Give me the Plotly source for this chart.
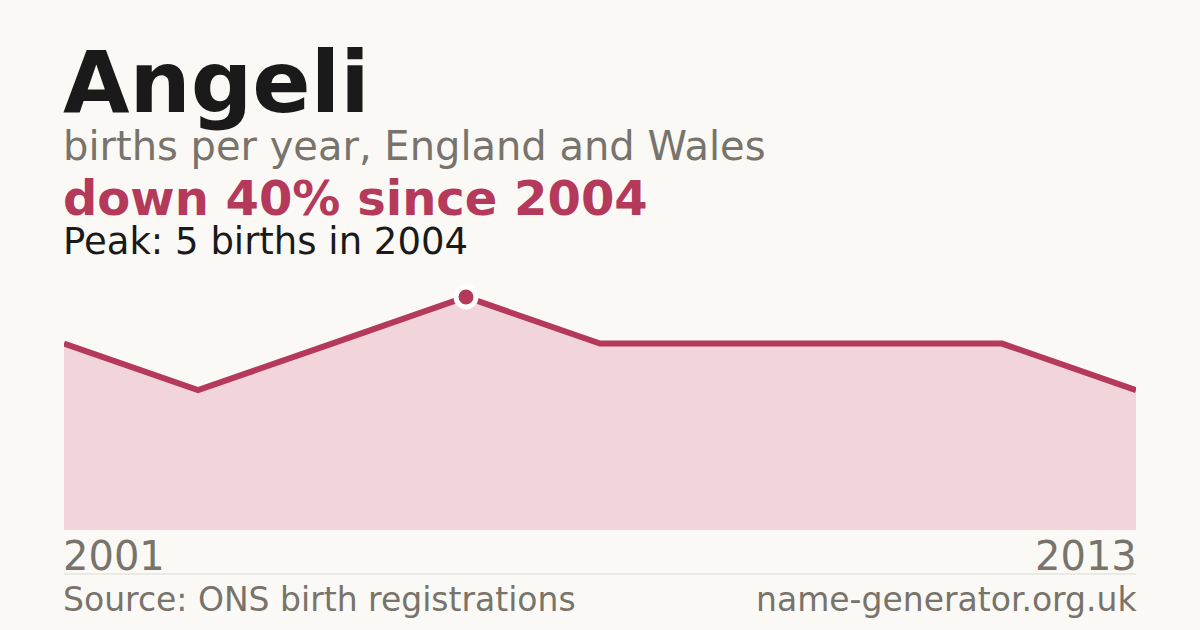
import plotly.graph_objects as go

# data (years with registered births; gaps are suppressed years)
years = ["2001", "2002", "2003", "2004", "2006", "2007", "2009", "2012", "2013"]
births = [4, 3, 4, 5, 4, 4, 4, 4, 3]

name = "Angeli"
subtitle = "births per year, England and Wales"
source = "Source: ONS birth registrations"
site = "name-generator.org.uk"

peak_i = births.index(max(births))
change = round((births[-1] - births[peak_i]) / births[peak_i] * 100)
headline = f"down {abs(change)}% since {years[peak_i]}"
peak_txt = f"Peak: {births[peak_i]} births in {years[peak_i]}"

BG = "#faf9f5"
RED = "#b5395a"
FILL = "#f2d5da"
GREY = "#78736b"
DARK = "#1a1a1a"
FONT = "DejaVu Sans"

W, H = 1200, 630
PAD = 3 / (W - 128)  # annotation inner padding, in paper units


def py(pix):
    # pixel row -> paper y (margins are zero top/bottom)
    return 1 - pix / H


fig = go.Figure()

fig.add_trace(go.Scatter(
    x=years, y=births,
    mode="lines",
    line=dict(color=RED, width=6),
    fill="tozeroy",
    fillcolor=FILL,
    hoverinfo="skip",
))

fig.add_trace(go.Scatter(
    x=[years[peak_i]], y=[births[peak_i]],
    mode="markers",
    marker=dict(color=RED, size=20, line=dict(color="white", width=5)),
    hoverinfo="skip",
))

ann = [
    dict(text=f"<b>{name}</b>", y=py(82), size=86, color=DARK, x=-PAD, xa="left"),
    dict(text=subtitle, y=py(146), size=40, color=GREY, x=-PAD, xa="left"),
    dict(text=f"<b>{headline}</b>", y=py(198), size=48, color=RED, x=-PAD, xa="left"),
    dict(text=peak_txt, y=py(242), size=37, color=DARK, x=-PAD, xa="left"),
    dict(text=years[0], y=py(556), size=40, color=GREY, x=-PAD, xa="left"),
    dict(text=years[-1], y=py(556), size=40, color=GREY, x=1 + PAD, xa="right"),
    dict(text=source, y=py(599), size=33, color=GREY, x=-PAD, xa="left"),
    dict(text=site, y=py(599), size=33, color=GREY, x=1 + PAD, xa="right"),
]

for a in ann:
    fig.add_annotation(
        text=a["text"], x=a["x"], y=a["y"], xref="paper", yref="paper",
        xanchor=a["xa"], yanchor="middle", showarrow=False,
        font=dict(family=FONT, size=a["size"], color=a["color"]),
    )

fig.add_shape(type="line", xref="paper", yref="paper",
              x0=0, x1=1, y0=py(574), y1=py(574),
              line=dict(color="#dedbd3", width=1))

fig.update_layout(
    width=W, height=H,
    paper_bgcolor=BG, plot_bgcolor=BG,
    margin=dict(l=64, r=64, t=0, b=0),
    showlegend=False,
    xaxis=dict(type="category", range=[0, len(years) - 1], visible=False, fixedrange=True),
    yaxis=dict(range=[0, max(births) * 1.15], domain=[py(530), py(262)],
               visible=False, fixedrange=True),
)

fig.write_html("out.html", config={"staticPlot": True},
               post_script=f"document.body.style.margin='0';document.body.style.background='{BG}';")
